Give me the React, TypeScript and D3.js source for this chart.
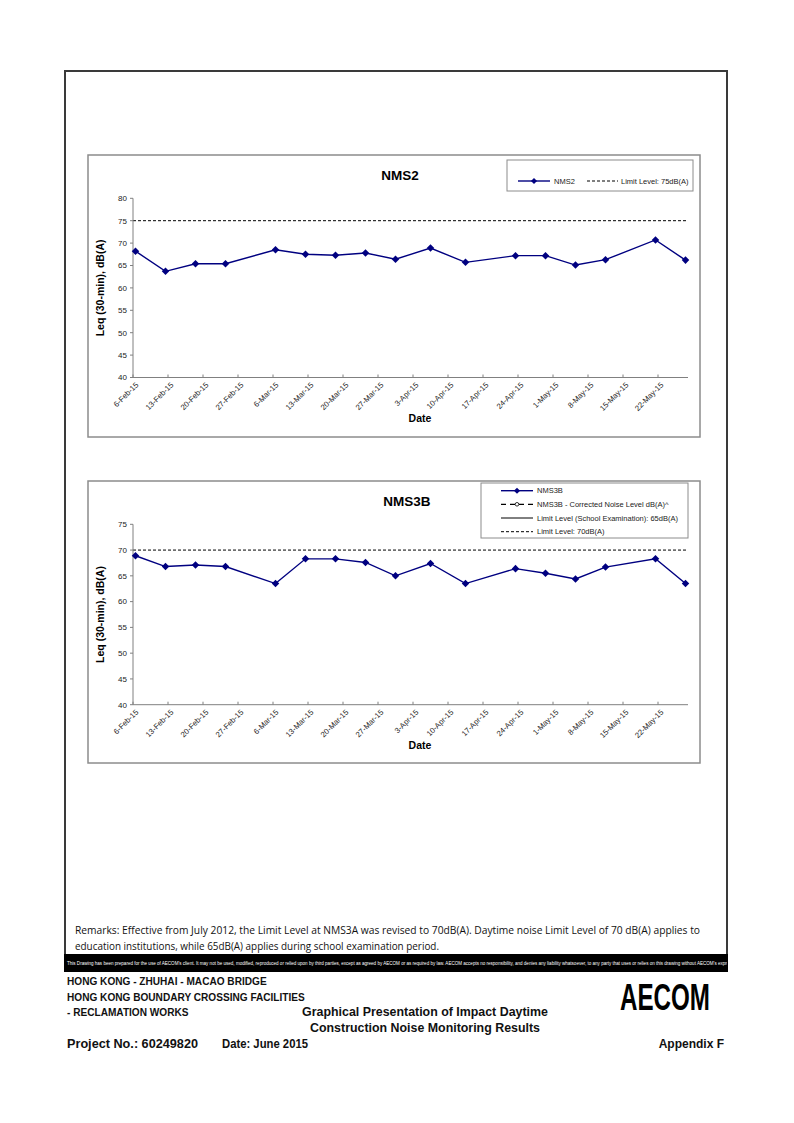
import React from "react";
import * as d3 from "d3";

// ---------- data ----------
const sampleDates = [
  "2015-02-06", "2015-02-12", "2015-02-18", "2015-02-24", "2015-03-06",
  "2015-03-12", "2015-03-18", "2015-03-24", "2015-03-30", "2015-04-06",
  "2015-04-13", "2015-04-23", "2015-04-29", "2015-05-05", "2015-05-11",
  "2015-05-21", "2015-05-27",
];
const nms2Values = [68.2, 63.7, 65.4, 65.4, 68.5, 67.5, 67.3, 67.8, 66.4, 68.9, 65.7, 67.2, 67.2, 65.1, 66.3, 70.7, 66.2];
const nms3bValues = [68.9, 66.8, 67.1, 66.8, 63.5, 68.3, 68.3, 67.6, 65.0, 67.4, 63.5, 66.4, 65.5, 64.4, 66.7, 68.3, 63.5];
const axisStart = "2015-02-06";
const axisEnd = "2015-05-28";
const tickDates = [
  "2015-02-06", "2015-02-13", "2015-02-20", "2015-02-27", "2015-03-06", "2015-03-13",
  "2015-03-20", "2015-03-27", "2015-04-03", "2015-04-10", "2015-04-17", "2015-04-24",
  "2015-05-01", "2015-05-08", "2015-05-15", "2015-05-22",
];
const nms2Limit = 75;
const nms3bLimit = 70;
const nms2YTicks = [40, 45, 50, 55, 60, 65, 70, 75, 80];
const nms3bYTicks = [40, 45, 50, 55, 60, 65, 70, 75];

const parse = (s: string) => {
  const [y, m, d] = s.split("-").map(Number);
  return new Date(Date.UTC(y, m - 1, d));
};
const fmt = d3.utcFormat("%-d-%b-%y");

const NAVY = "#000080";
const AXIS = "#808080";
const TXT = "#222222";
const FONT = "'Liberation Sans', Arial, sans-serif";

type ChartProps = {
  title: string;
  values: number[];
  limit: number;
  yTicks: number[];
  box: { x: number; y: number; w: number; h: number };
  plot: { left: number; right: number; top: number; bottom: number };
  titleX: number;
  legend: React.ReactNode;
};

function Chart({ title, values, limit, yTicks, box, plot, titleX, legend }: ChartProps) {
  const x = d3.scaleUtc().domain([parse(axisStart), parse(axisEnd)]).range([plot.left, plot.right]);
  const y = d3
    .scaleLinear()
    .domain([yTicks[0], yTicks[yTicks.length - 1]])
    .range([plot.bottom, plot.top]);
  const pts = sampleDates.map((s, i) => [x(d3.utcHour.offset(parse(s), 12)), y(values[i])] as [number, number]);
  const line = d3.line()(pts) || "";
  const diamond = d3.symbol().type(d3.symbolDiamond2).size(36)() || "";
  return (
    <g>
      <rect x={box.x} y={box.y} width={box.w} height={box.h} fill="#fff" stroke="#8c8c8c" strokeWidth={1.5} />
      <text x={titleX} y={box.y + 25} textAnchor="middle" fontFamily={FONT} fontWeight="bold" fontSize={13.5} fill="#000">
        {title}
      </text>
      <line x1={plot.left} x2={plot.right} y1={y(limit)} y2={y(limit)} stroke="#000" strokeWidth={1} strokeDasharray="3,2" />
      <line x1={plot.left} x2={plot.left} y1={plot.top} y2={plot.bottom} stroke={AXIS} strokeWidth={1} />
      <line x1={plot.left} x2={plot.right} y1={plot.bottom} y2={plot.bottom} stroke={AXIS} strokeWidth={1} />
      {yTicks.map((t) => (
        <g key={t}>
          <line x1={plot.left - 3} x2={plot.left} y1={y(t)} y2={y(t)} stroke={AXIS} />
          <text x={plot.left - 6} y={y(t)} dy="0.35em" textAnchor="end" fontFamily={FONT} fontSize={8} fill={TXT}>
            {t}
          </text>
        </g>
      ))}
      {tickDates.map((s) => {
        const tx = x(parse(s));
        return (
          <g key={s}>
            <line x1={tx} x2={tx} y1={plot.bottom - 3} y2={plot.bottom} stroke={AXIS} />
            <text
              transform={`translate(${tx + 4},${plot.bottom + 6}) rotate(-45)`}
              textAnchor="end"
              dy="0.35em"
              fontFamily={FONT}
              fontSize={7.7}
              fill={TXT}
            >
              {fmt(parse(s))}
            </text>
          </g>
        );
      })}
      <text x={420} y={plot.bottom + 44} textAnchor="middle" fontFamily={FONT} fontWeight="bold" fontSize={10.5} fill="#000">
        Date
      </text>
      <text
        transform={`translate(104,${(plot.top + plot.bottom) / 2}) rotate(-90)`}
        textAnchor="middle"
        fontFamily={FONT}
        fontWeight="bold"
        fontSize={10.5}
        fill="#000"
      >
        Leq (30-min), dB(A)
      </text>
      <path d={line} fill="none" stroke={NAVY} strokeWidth={1.4} />
      {pts.map((p, i) => (
        <path key={i} d={diamond} transform={`translate(${p[0]},${p[1]})`} fill={NAVY} />
      ))}
      {legend}
    </g>
  );
}

export default function App() {
  const diamond = d3.symbol().type(d3.symbolDiamond2).size(24)() || "";
  const lt = { fontFamily: FONT, fontSize: 7.5, fill: TXT } as const;
  const legend1 = (
    <g>
      <rect x={507} y={160} width={186} height={31} fill="#fff" stroke="#8c8c8c" strokeWidth={1} />
      <line x1={518} x2={550} y1={181} y2={181} stroke={NAVY} strokeWidth={1.4} />
      <path d={diamond} transform="translate(534,181)" fill={NAVY} />
      <text x={554} y={181} dy="0.35em" {...lt}>NMS2</text>
      <line x1={587} x2={618} y1={181} y2={181} stroke="#000" strokeDasharray="3,2" />
      <text x={621} y={181} dy="0.35em" {...lt}>Limit Level: 75dB(A)</text>
    </g>
  );
  const rows = [490.7, 504.3, 518, 531.7];
  const legend2 = (
    <g>
      <rect x={481} y={483} width={207} height={55} fill="#fff" stroke="#8c8c8c" strokeWidth={1} />
      <line x1={501} x2={533} y1={rows[0]} y2={rows[0]} stroke={NAVY} strokeWidth={1.4} />
      <path d={diamond} transform={`translate(517,${rows[0]})`} fill={NAVY} />
      <text x={537} y={rows[0]} dy="0.35em" {...lt}>NMS3B</text>
      <line x1={501} x2={533} y1={rows[1]} y2={rows[1]} stroke="#000" strokeWidth={1.2} strokeDasharray="5,4" />
      <circle cx={517} cy={rows[1]} r={1.8} fill="#fff" stroke="#000" strokeWidth={0.8} />
      <text x={537} y={rows[1]} dy="0.35em" {...lt}>NMS3B - Corrected Noise Level dB(A)^</text>
      <line x1={501} x2={533} y1={rows[2]} y2={rows[2]} stroke="#000" strokeWidth={1} />
      <text x={537} y={rows[2]} dy="0.35em" {...lt}>Limit Level (School Examination): 65dB(A)</text>
      <line x1={501} x2={533} y1={rows[3]} y2={rows[3]} stroke="#000" strokeDasharray="3,2" />
      <text x={537} y={rows[3]} dy="0.35em" {...lt}>Limit Level: 70dB(A)</text>
    </g>
  );
  const disclaimer =
    "This Drawing has been prepared for the use of AECOM's client. It may not be used, modified, reproduced or relied upon by third parties, except as agreed by AECOM or as required by law. AECOM accepts no responsibility, and denies any liability whatsoever, to any party that uses or relies on this drawing without AECOM's express written consent.";
  return (
    <svg width={794} height={1123} style={{ position: "absolute", left: 0, top: 0, background: "#fff" }}>
      <defs>
        <clipPath id="barClip">
          <rect x={65} y={953} width={662} height={19} />
        </clipPath>
      </defs>
      <rect x={0} y={0} width={794} height={1123} fill="#fff" />
      <path d="M65,972 V71 H727 V972" fill="none" stroke="#3a3a3a" strokeWidth={2} />
      <Chart
        title="NMS2"
        values={nms2Values}
        limit={nms2Limit}
        yTicks={nms2YTicks}
        box={{ x: 88, y: 155, w: 612, h: 282 }}
        plot={{ left: 133, right: 688, top: 198.3, bottom: 377.5 }}
        titleX={400}
        legend={legend1}
      />
      <Chart
        title="NMS3B"
        values={nms3bValues}
        limit={nms3bLimit}
        yTicks={nms3bYTicks}
        box={{ x: 88, y: 481, w: 612, h: 282 }}
        plot={{ left: 133, right: 688, top: 524.3, bottom: 704.7 }}
        titleX={407}
        legend={legend2}
      />
      <g fontFamily="'Open Sans', sans-serif" fontSize={10.5} fill="#111">
        <text x={75} y={934} textLength={625} lengthAdjust="spacingAndGlyphs">
          Remarks: Effective from July 2012, the Limit Level at NMS3A was revised to 70dB(A). Daytime noise Limit Level of 70 dB(A) applies to
        </text>
        <text x={75} y={950} textLength={364} lengthAdjust="spacingAndGlyphs">
          education institutions, while 65dB(A) applies during school examination period.
        </text>
      </g>
      <rect x={64} y={954} width={664} height={18} fill="#000" />
      <g clipPath="url(#barClip)">
        <text x={67} y={965} fill="#fff" fontFamily={FONT} fontSize={4.6} textLength={700} lengthAdjust="spacingAndGlyphs">
          {disclaimer}
        </text>
      </g>
      <g fontFamily={FONT} fontWeight="bold" fill="#111">
        <text x={67} y={985} fontSize={10.1}>HONG KONG - ZHUHAI - MACAO BRIDGE</text>
        <text x={67} y={1001} fontSize={10.1}>HONG KONG BOUNDARY CROSSING FACILITIES</text>
        <text x={67} y={1016} fontSize={10.1}>- RECLAMATION WORKS</text>
        <text x={425} y={1015.5} fontSize={12.4} textAnchor="middle">Graphical Presentation of Impact Daytime</text>
        <text x={425} y={1031.5} fontSize={12.4} textAnchor="middle">Construction Noise Monitoring Results</text>
        <text x={67} y={1047.5} fontSize={12} textLength={131} lengthAdjust="spacingAndGlyphs">Project No.: 60249820</text>
        <text x={222} y={1047.5} fontSize={12} textLength={86} lengthAdjust="spacingAndGlyphs">Date: June 2015</text>
        <text x={724} y={1047.5} fontSize={12} textAnchor="end">Appendix F</text>
        <text x={620} y={1010} fontSize={37} fontWeight={900} fill="#000" textLength={90} lengthAdjust="spacingAndGlyphs">
          AECOM
        </text>
      </g>
    </svg>
  );
}
